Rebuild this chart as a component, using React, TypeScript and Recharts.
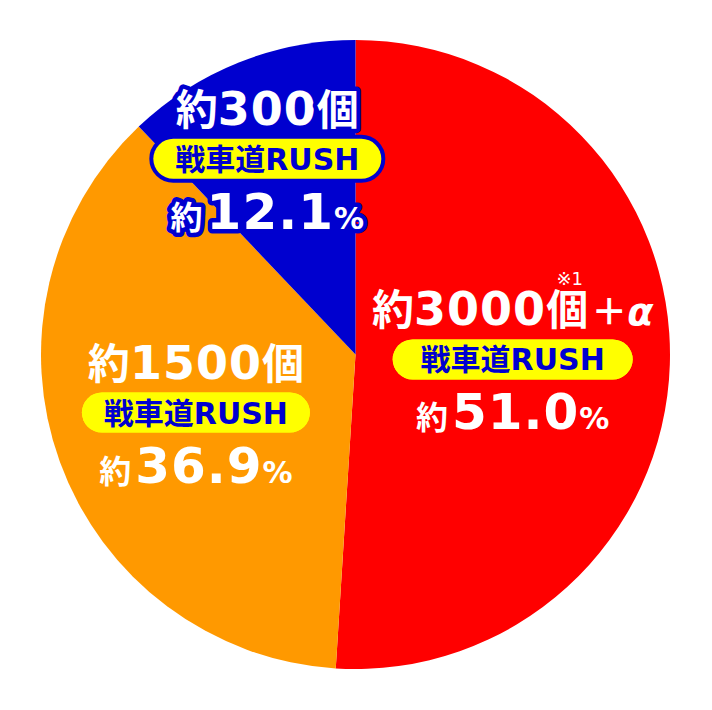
import { Cell, Pie, PieChart } from 'recharts';

// slice data, clockwise from 12 o'clock
const COUNTS = ['3000', '1500', '300'];
const PERCENTS = [51.0, 36.9, 12.1];
const EXTRAS = ['＋α', '', ''];
const NOTES = ['※1', '', ''];
const RUSH_LABEL = '戦車道RUSH';

const COLORS = ['#FF0000', '#FF9900', '#0000CF'];
const TEXT_BLUE = '#0000CF';
const FONT = "'DejaVu Sans', 'Noto Sans CJK JP', sans-serif";
const CJK = "'Noto Sans CJK JP', sans-serif";
const RADIAN = Math.PI / 180;

// label layout (radius as share of outer radius, small x nudge)
const LABEL_RADIUS = [0.5, 0.54, 0.67];
const LABEL_NUDGE_X = [0, 0, -10];
const PILL_WIDTH = [240, 228, 228];

const chartData = PERCENTS.map((value, i) => ({
  name: COUNTS[i],
  value,
}));

const SliceLabel = (props: any) => {
  const { cx, cy, midAngle, outerRadius, index } = props;
  const r = outerRadius * LABEL_RADIUS[index];
  const x = cx + r * Math.cos(-midAngle * RADIAN) + LABEL_NUDGE_X[index];
  const y = cy + r * Math.sin(-midAngle * RADIAN);
  const outlined = index === 2;
  const outline = outlined
    ? { stroke: TEXT_BLUE, strokeWidth: 9, strokeLinejoin: 'round' as const, paintOrder: 'stroke' as const }
    : {};
  const w = PILL_WIDTH[index];

  return (
    <g transform={`translate(${x},${y})`} fontFamily={FONT} fontWeight="bold">
      <text x={0} y={-34} textAnchor="middle" fill="#fff" {...outline}>
        <tspan fontFamily={CJK} fontSize={42}>約</tspan>
        <tspan fontSize={46} letterSpacing={1}>{COUNTS[index]}</tspan>
        <tspan fontFamily={CJK} fontSize={42}>個</tspan>
        {EXTRAS[index] && (
          <>
            <tspan fontFamily={CJK} fontSize={36} dx={3}>＋</tspan>
            <tspan fontSize={38} fontStyle="italic">α</tspan>
          </>
        )}
      </text>
      {NOTES[index] && (
        <text x={57} y={-74} textAnchor="middle" fill="#fff" fontSize={18} fontWeight="normal">
          {NOTES[index]}
        </text>
      )}
      <rect
        x={-w / 2}
        y={-20}
        width={w}
        height={40}
        rx={20}
        fill="#FFFF00"
        stroke={outlined ? TEXT_BLUE : 'none'}
        strokeWidth={outlined ? 8 : 0}
      />
      <rect x={-w / 2} y={-20} width={w} height={40} rx={20} fill="#FFFF00" />
      <text x={0} y={11} textAnchor="middle" fill={TEXT_BLUE} fontSize={30}>
        {RUSH_LABEL}
      </text>
      <text x={0} y={70} textAnchor="middle" fill="#fff" {...outline}>
        <tspan fontFamily={CJK} fontSize={32}>約</tspan>
        <tspan fontSize={50} dx={4} letterSpacing={1}>{PERCENTS[index].toFixed(1)}</tspan>
        <tspan fontSize={30}>%</tspan>
      </text>
    </g>
  );
};

export default function App() {
  return (
    <div style={{ position: 'absolute', top: 0, left: 0, width: 712, height: 710, background: '#fff' }}>
      <PieChart width={712} height={710} margin={{ top: 0, right: 0, bottom: 0, left: 0 }}>
        <Pie
          data={chartData}
          dataKey="value"
          cx={355.5}
          cy={354.5}
          outerRadius={314.5}
          startAngle={90}
          endAngle={-270}
          stroke="none"
          labelLine={false}
          label={SliceLabel}
          isAnimationActive={false}
        >
          {chartData.map((d, i) => (
            <Cell key={d.name} fill={COLORS[i]} />
          ))}
        </Pie>
      </PieChart>
    </div>
  );
}
